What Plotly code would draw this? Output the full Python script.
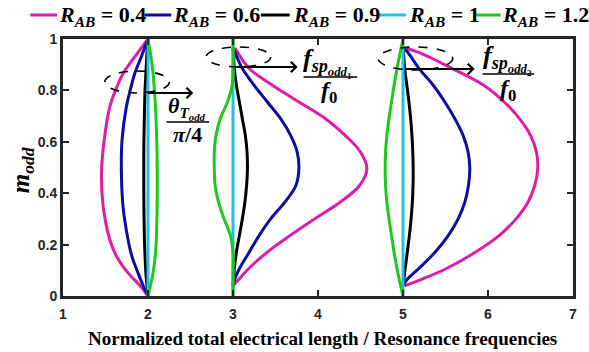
import plotly.graph_objects as go

# ---------------- data ----------------
R_LABELS = ["0.4", "0.6", "0.9", "1", "1.2"]
COLORS = ["#E01BA8", "#0B0BA6", "#000000", "#25C0E8", "#1DC81D"]

# normalized total electrical length theta_T / (pi/4)
M_THETA = [1.0, 0.93, 0.865, 0.80, 0.735, 0.605, 0.48, 0.35, 0.22, 0.155, 0.09, 0.035, 0.0]
THETA_04 = [2.0, 1.843, 1.706, 1.617, 1.55, 1.484, 1.453, 1.472, 1.55, 1.629, 1.765, 1.92, 2.0]
THETA_06 = [2.0, 1.92, 1.843, 1.79, 1.745, 1.694, 1.687, 1.706, 1.765, 1.81, 1.882, 1.95, 2.0]
THETA_09 = [2.0, 1.985, 1.975, 1.965, 1.96, 1.952, 1.95, 1.952, 1.958, 1.965, 1.975, 1.99, 2.0]
THETA_12 = [2.0, 2.035, 2.06, 2.075, 2.088, 2.103, 2.109, 2.107, 2.098, 2.085, 2.06, 2.025, 2.0]

# spurious resonance ratios fsp1/f0 and fsp2/f0
M_SP = [0.965, 0.95, 0.885, 0.82, 0.755, 0.69, 0.625, 0.56, 0.495, 0.43, 0.365, 0.30, 0.235, 0.17, 0.105, 0.065, 0.04]
SP1_04 = [3.02, 3.05, 3.19, 3.463, 3.775, 4.088, 4.32, 4.5, 4.575, 4.49, 4.26, 3.96, 3.67, 3.40, 3.18, 3.07, 3.0]
SP1_06 = [3.0, 3.02, 3.11, 3.248, 3.404, 3.56, 3.678, 3.755, 3.775, 3.74, 3.61, 3.443, 3.307, 3.19, 3.073, 3.02, 3.0]
SP1_09 = [3.0, 3.005, 3.015, 3.04, 3.075, 3.11, 3.145, 3.165, 3.17, 3.16, 3.14, 3.11, 3.075, 3.04, 3.015, 3.005, 3.0]
SP2_04 = [5.0, 5.17, 5.58, 5.95, 6.19, 6.37, 6.5, 6.57, 6.585, 6.55, 6.47, 6.33, 6.13, 5.85, 5.5, 5.22, 5.02]
SP2_06 = [5.0, 5.05, 5.19, 5.356, 5.493, 5.61, 5.707, 5.766, 5.786, 5.77, 5.727, 5.649, 5.532, 5.376, 5.18, 5.05, 5.0]
SP2_09 = [5.0, 5.005, 5.02, 5.045, 5.07, 5.09, 5.105, 5.115, 5.12, 5.118, 5.11, 5.095, 5.075, 5.05, 5.025, 5.01, 5.0]

M_SP_FULL = [1.0, 0.885, 0.82, 0.755, 0.69, 0.625, 0.56, 0.495, 0.43, 0.365, 0.30, 0.235, 0.17, 0.105, 0.0]
SP1_12 = [3.0, 3.0, 2.99, 2.935, 2.85, 2.80, 2.78, 2.78, 2.79, 2.83, 2.895, 2.97, 3.0, 3.0, 3.0]
SP2_12 = [5.0, 4.93, 4.895, 4.865, 4.835, 4.81, 4.795, 4.79, 4.795, 4.81, 4.835, 4.865, 4.895, 4.93, 5.0]

M_LINE = [0.0, 1.0]
THETA_10 = [2.0, 2.0]
SP1_10 = [3.0, 3.0]
SP2_10 = [5.0, 5.0]

X_TICKS = [1, 2, 3, 4, 5, 6, 7]
Y_TICKS = [0, 0.2, 0.4, 0.6, 0.8, 1]
Y_TICKTEXT = ["0", "0.2", "0.4", "0.6", "0.8", "1"]
X_TITLE = "Normalized total electrical length / Resonance frequencies"

SERIES = [
    (THETA_04, M_THETA, SP1_04, M_SP, SP2_04, M_SP),
    (THETA_06, M_THETA, SP1_06, M_SP, SP2_06, M_SP),
    (THETA_09, M_THETA, SP1_09, M_SP, SP2_09, M_SP),
    (THETA_10, M_LINE, SP1_10, M_LINE, SP2_10, M_LINE),
    (THETA_12, M_THETA, SP1_12, M_SP_FULL, SP2_12, M_SP_FULL),
]

# ---------------- figure ----------------
W, H = 589, 352
ML, MR, MT, MB = 63, 13, 39, 56
PW, PH = W - ML - MR, H - MT - MB


def px(xp):
    return (xp - ML) / PW


def py(yp):
    return (H - MB - yp) / PH


def dx(xp):  # pixel -> data x
    return 1 + (xp - ML) / PW * 6


def dy(yp):  # pixel -> data y
    return (H - MB - yp) / PH


fig = go.Figure()
for (tx, tm, s1x, s1m, s2x, s2m), col, lab in zip(SERIES, COLORS, R_LABELS):
    xs = list(tx) + [None] + list(s1x) + [None] + list(s2x)
    ys = list(tm) + [None] + list(s1m) + [None] + list(s2m)
    fig.add_trace(go.Scatter(x=xs, y=ys, mode="lines", name="R_AB = " + lab,
                             line=dict(color=col, width=3, shape="spline", smoothing=1.0),
                             showlegend=False, connectgaps=False))

SERIF = "Liberation Serif"
shapes = []
annotations = []

# manual legend along the top
LEG_LINES = [(30, 57), (145, 172), (262, 291), (380, 408), (477, 503)]
LEG_TEXT_X = [57, 172, 292, 409, 503]
LEG_Y = 15
for (a, b), tx, col, lab in zip(LEG_LINES, LEG_TEXT_X, COLORS, R_LABELS):
    shapes.append(dict(type="line", xref="paper", yref="paper", x0=px(a), x1=px(b),
                       y0=py(LEG_Y), y1=py(LEG_Y), line=dict(color=col, width=3)))
    annotations.append(dict(xref="paper", yref="paper", x=px(tx), y=py(LEG_Y + 1),
                            xanchor="left", yanchor="middle", showarrow=False,
                            text="<i>R</i><sub><i>AB</i></sub> = " + lab,
                            font=dict(family=SERIF, size=22, color="black", weight="bold")))

# dashed ellipses (pixel boxes)
for x0, x1, y0, y1 in [(105, 170, 71, 93), (207, 272, 47, 67), (380, 455, 47, 70)]:
    shapes.append(dict(type="circle", xref="x", yref="y", x0=dx(x0), x1=dx(x1), y0=dy(y1), y1=dy(y0),
                       line=dict(color="black", width=1.6, dash="dash")))

# arrows
for xs_, xe_, yy in [(147, 194, 93), (235, 299, 67), (406, 477, 69)]:
    annotations.append(dict(x=dx(xe_), y=dy(yy), ax=dx(xs_), ay=dy(yy), xref="x", yref="y",
                            axref="x", ayref="y", showarrow=True, arrowhead=4, arrowsize=1,
                            arrowwidth=2, arrowcolor="black", text=""))

# fraction labels: numerator (left px, centre py), bar (x0, x1, py), denominator (left px, centre py)
FRACS = [
    ("<i>θ</i><sub><i>T</i><sub><i>odd</i></sub></sub>", 22, (167, 108),
     (167, 210, 122), "<i>π</i>/4", 22, (172, 134)),
    ("<i>f</i><sub><i>sp</i><sub><i>odd</i><sub>1</sub></sub></sub>", 26, (302, 62),
     (305, 359, 77), "<i>f</i><sub>0</sub>", 24, (321, 92)),
    ("<i>f</i><sub><i>sp</i><sub><i>odd</i><sub>2</sub></sub></sub>", 26, (483, 59),
     (485, 537, 74), "<i>f</i><sub>0</sub>", 24, (501, 90)),
]
for num, nsz, (nx, ny), (b0, b1, by), den, dsz, (ddx, ddy) in FRACS:
    annotations.append(dict(x=dx(nx), y=dy(ny), xref="x", yref="y", text=num, showarrow=False,
                            xanchor="left", yanchor="middle",
                            font=dict(family=SERIF, size=nsz, color="black", weight="bold")))
    shapes.append(dict(type="line", xref="x", yref="y", x0=dx(b0), x1=dx(b1), y0=dy(by), y1=dy(by),
                       line=dict(color="black", width=1.5)))
    annotations.append(dict(x=dx(ddx), y=dy(ddy), xref="x", yref="y", text=den, showarrow=False,
                            xanchor="left", yanchor="middle",
                            font=dict(family=SERIF, size=dsz, color="black", weight="bold")))

# axis titles
annotations.append(dict(xref="paper", yref="paper", x=px(22), y=py(170), textangle=-90,
                        text="<i>m</i><sub><i>odd</i></sub>", showarrow=False,
                        xanchor="center", yanchor="middle",
                        font=dict(family=SERIF, size=25, color="black", weight="bold")))
annotations.append(dict(xref="paper", yref="paper", x=px(324), y=py(338),
                        text=X_TITLE, showarrow=False, xanchor="center", yanchor="middle",
                        font=dict(family=SERIF, size=19, color="black", weight="bold")))

TICKFONT = dict(family="Liberation Sans", size=14, color="#262626", weight="bold")

fig.update_layout(
    width=W, height=H,
    margin=dict(l=ML, r=MR, t=MT, b=MB, pad=0),
    paper_bgcolor="white", plot_bgcolor="white",
    showlegend=False,
    shapes=shapes, annotations=annotations,
    xaxis=dict(range=[1, 7], tickvals=X_TICKS, ticks="inside", ticklen=6, tickwidth=2,
               tickcolor="#262626", showline=True, linewidth=3, linecolor="#262626",
               mirror="allticks", showgrid=False, zeroline=False, tickfont=TICKFONT,
               ticklabelstandoff=3),
    yaxis=dict(range=[0, 1], tickvals=Y_TICKS, ticktext=Y_TICKTEXT, ticks="inside", ticklen=6,
               tickwidth=2, tickcolor="#262626", showline=True, linewidth=3,
               linecolor="#262626", mirror="allticks", showgrid=False, zeroline=False,
               tickfont=TICKFONT),
)

fig.write_html("out.html")
